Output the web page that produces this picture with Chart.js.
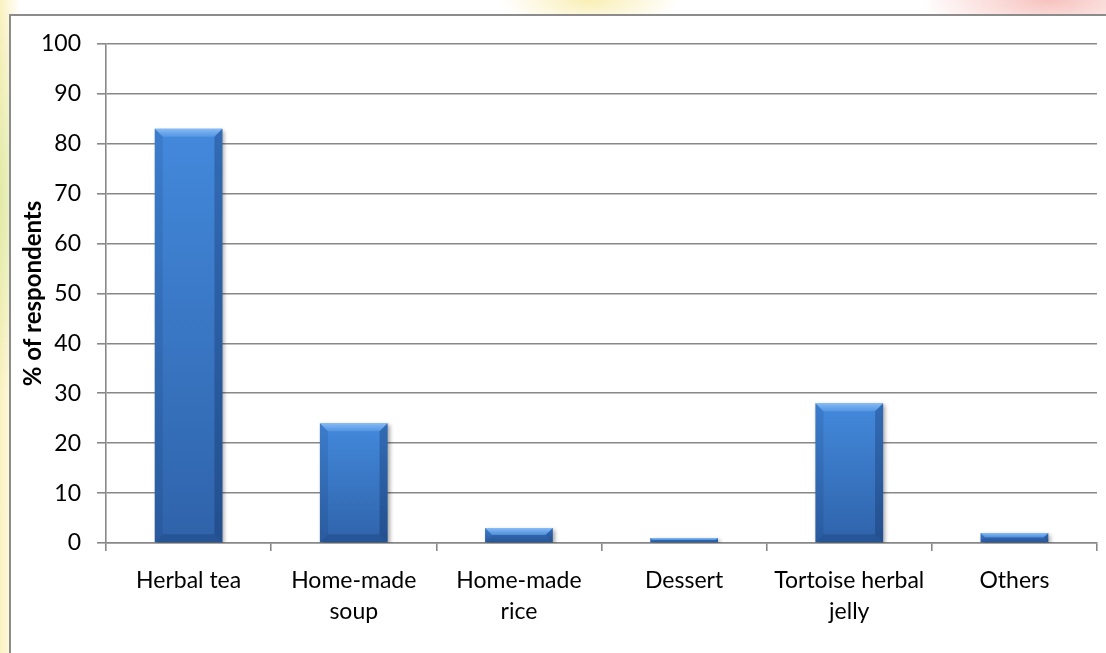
<!DOCTYPE html>
<html><head><meta charset="utf-8">
<script src="https://cdn.jsdelivr.net/npm/chart.js@4.4.0/dist/chart.umd.min.js"></script>
<style>
html,body{margin:0;padding:0;width:1106px;height:653px;overflow:hidden;background:#fff;}
#bg{position:absolute;left:0;top:0;width:1106px;height:653px;background:
 radial-gradient(ellipse 130px 40px at 1050px 0px, rgba(235,120,110,0.45), rgba(235,120,110,0) 100%),
 radial-gradient(ellipse 90px 30px at 590px 0px, rgba(245,225,120,0.55), rgba(245,225,120,0) 100%),
 radial-gradient(ellipse 30px 200px at 0px 200px, rgba(200,225,140,0.5), rgba(200,225,140,0) 100%),
 linear-gradient(to right, rgba(248,232,150,0.6), rgba(248,232,150,0) 20px);}
#frame{position:absolute;left:9px;top:14px;width:1120px;height:680px;background:#fff;border:2px solid #8c8c8c;}
#wrap{position:absolute;left:0;top:0;width:1106px;height:653px;}
</style></head>
<body><div id="bg"></div><div id="frame"></div><div id="wrap"><canvas id="c"></canvas></div>
<script>
const categories = [['Herbal tea'], ['Home-made', 'soup'], ['Home-made', 'rice'], ['Dessert'], ['Tortoise herbal', 'jelly'], ['Others']];
const values = [83, 24, 3, 1, 28, 2];
const yMin = 0, yMax = 100, yStep = 10;
const yTitle = '% of respondents';

const bevelPlugin = {
  id: 'bevel',
  beforeDatasetsDraw(chart) {
    const ctx = chart.ctx;
    ctx.save();
    ctx.shadowColor = 'rgba(0,0,0,0.35)';
    ctx.shadowBlur = 4;
    ctx.shadowOffsetX = 2;
    ctx.shadowOffsetY = 2;
  },
  afterDatasetsDraw(chart) {
    const ctx = chart.ctx;
    ctx.restore();
    const meta = chart.getDatasetMeta(0);
    meta.data.forEach(bar => {
      const p = bar.getProps(['x', 'y', 'base', 'width'], true);
      const l = p.x - p.width / 2, r = p.x + p.width / 2, t = p.y, b = p.base;
      const h = b - t;
      const bv = Math.min(8, h / 2, p.width / 2);
      ctx.save();
      const g = ctx.createLinearGradient(0, t, 0, t + bv);
      g.addColorStop(0, 'rgba(160,205,255,0.75)');
      g.addColorStop(1, 'rgba(120,180,245,0.35)');
      ctx.fillStyle = g;
      ctx.beginPath(); ctx.moveTo(l, t); ctx.lineTo(r, t); ctx.lineTo(r - bv, t + bv); ctx.lineTo(l + bv, t + bv); ctx.closePath(); ctx.fill();
      ctx.fillStyle = 'rgba(0,20,60,0.10)';
      ctx.beginPath(); ctx.moveTo(l, t); ctx.lineTo(l + bv, t + bv); ctx.lineTo(l + bv, b - bv); ctx.lineTo(l, b); ctx.closePath(); ctx.fill();
      ctx.fillStyle = 'rgba(0,20,60,0.25)';
      ctx.beginPath(); ctx.moveTo(r, t); ctx.lineTo(r - bv, t + bv); ctx.lineTo(r - bv, b - bv); ctx.lineTo(r, b); ctx.closePath(); ctx.fill();
      ctx.fillStyle = 'rgba(0,20,60,0.18)';
      ctx.beginPath(); ctx.moveTo(l, b); ctx.lineTo(r, b); ctx.lineTo(r - bv, b - bv); ctx.lineTo(l + bv, b - bv); ctx.closePath(); ctx.fill();
      ctx.restore();
    });
  }
};

function faceColor(context) {
  const chart = context.chart;
  const ys = chart.scales.y;
  if (!ys || context.raw === undefined) return '#3a78c8';
  const top = ys.getPixelForValue(context.raw);
  const bot = ys.getPixelForValue(0);
  if (!isFinite(top) || !isFinite(bot) || top === bot) return '#3a78c8';
  const g = chart.ctx.createLinearGradient(0, top, 0, bot);
  g.addColorStop(0, '#4389dc');
  g.addColorStop(1, '#2f63aa');
  return g;
}

Chart.defaults.font.family = 'Lato, "Open Sans", sans-serif';
Chart.defaults.color = '#000';

new Chart(document.getElementById('c'), {
  type: 'bar',
  data: {
    labels: categories,
    datasets: [{
      data: values,
      backgroundColor: faceColor,
      borderWidth: 0,
      barPercentage: 0.41,
      categoryPercentage: 1
    }]
  },
  options: {
    responsive: true,
    maintainAspectRatio: false,
    animation: false,
    layout: { padding: { top: 44, right: 9, left: 0, bottom: 0 } },
    plugins: { legend: { display: false }, tooltip: { enabled: false } },
    scales: {
      x: {
        grid: { display: true, drawOnChartArea: false, drawTicks: true, tickLength: 8, color: '#888', lineWidth: 1.6, offset: true },
        border: { display: true, color: '#888', width: 1.6 },
        ticks: { font: { size: 23, lineHeight: 1.36 }, padding: 14, maxRotation: 0, autoSkip: false, color: '#000' },
        afterFit(s) { s.height = 110; }
      },
      y: {
        min: yMin, max: yMax,
        ticks: { stepSize: yStep, font: { size: 23 }, padding: 16, color: '#000' },
        grid: { color: '#888', lineWidth: 1.6, tickLength: 9 },
        border: { display: true, color: '#888', width: 1.6 },
        title: { display: true, text: yTitle, font: { size: 24, weight: 'bold' }, padding: { top: 19, bottom: 0 }, color: '#000' },
        afterFit(s) { s.width = 106; }
      }
    }
  },
  plugins: [bevelPlugin]
});
</script>
</body></html>
